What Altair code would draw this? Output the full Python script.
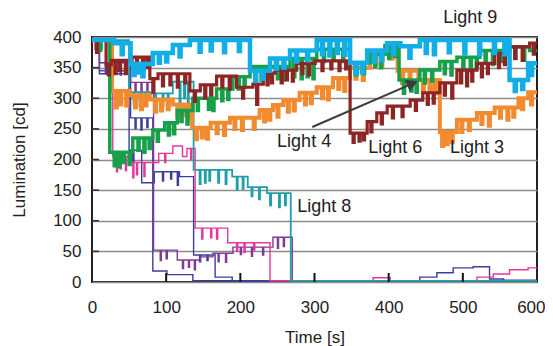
import altair as alt
import pandas as pd

# ---------------- axes ----------------
X_TICKS = [0, 100, 200, 300, 400, 500, 600]
Y_TICKS = [0, 50, 100, 150, 200, 250, 300, 350, 400]
INNER_X_TICKS = [100, 200, 300, 400, 500]
INNER_Y_TICKS = [50, 100, 150, 200, 250, 300, 350]

# ---------------- series ----------------
# each segment: [start time (s), level (cd), [[dip time, dip level], ...]]
LIGHT9 = [
    [0, 395, []],
    [30, 390, [[40, 372]]],
    [52, 356, [[56, 338], [62, 342], [68, 336]]],
    [82, 374, [[90, 358], [100, 360]]],
    [109, 387, [[118, 368]]],
    [132, 395, [[145, 376], [160, 378], [178, 375], [198, 377]]],
    [213, 345, [[220, 328], [230, 332]]],
    [240, 365, [[248, 348], [258, 350]]],
    [267, 378, [[275, 360], [290, 362]]],
    [303, 395, [[310, 372], [320, 370], [330, 374], [340, 371]]],
    [348, 358, [[355, 340], [364, 342]]],
    [371, 378, [[380, 360], [390, 362]]],
    [398, 390, [[406, 372]]],
    [416, 385, [[428, 366]]],
    [442, 395, [[450, 374], [461, 372], [481, 375], [502, 373], [522, 372], [542, 374], [556, 372]]],
    [563, 330, [[570, 312], [580, 315]]],
    [588, 357, [[592, 338]]],
]
LIGHT6 = [
    [0, 395, [[6, 375]]],
    [19, 355, [[22, 338]]],
    [26, 362, [[31, 340], [37, 345], [45, 340]]],
    [54, 367, [[60, 350], [68, 345], [74, 350]]],
    [78, 332, [[82, 310]]],
    [89, 340, [[95, 320], [105, 322], [115, 318], [125, 325]]],
    [132, 312, [[138, 295]]],
    [146, 322, [[152, 300], [160, 305]]],
    [168, 336, [[175, 318], [185, 315]]],
    [195, 318, [[203, 300]]],
    [217, 323, [[222, 290]]],
    [231, 341, [[236, 322], [242, 325]]],
    [247, 346, [[255, 325], [262, 330], [270, 328]]],
    [276, 357, [[283, 340], [292, 338]]],
    [301, 361, [[310, 345], [322, 348], [333, 345], [342, 348]]],
    [348, 243, [[352, 228], [360, 230], [366, 232]]],
    [371, 262, [[376, 245]]],
    [384, 276, [[390, 258]]],
    [398, 287, [[405, 268], [418, 270]]],
    [429, 297, [[436, 280]]],
    [446, 309, [[452, 290], [460, 292]]],
    [469, 325, [[475, 305], [485, 300]]],
    [492, 346, [[497, 325], [505, 320], [512, 328]]],
    [519, 357, [[525, 335], [533, 340]]],
    [543, 373, [[548, 350], [556, 355]]],
    [563, 384, [[570, 365], [580, 362]]],
    [590, 390, [[595, 372]]],
]
LIGHT3 = [
    [0, 395, [[8, 378]]],
    [27, 312, [[32, 285], [38, 290], [46, 288]]],
    [51, 305, [[58, 285], [66, 282], [72, 288]]],
    [78, 298, [[85, 278], [93, 280], [102, 282]]],
    [109, 290, [[115, 270], [124, 272], [130, 268]]],
    [135, 252, [[140, 233], [148, 236], [155, 234]]],
    [160, 260, [[168, 243], [178, 240]]],
    [186, 268, [[192, 250], [202, 248]]],
    [213, 268, [[218, 250]]],
    [226, 281, [[232, 262], [239, 265]]],
    [244, 289, [[250, 270]]],
    [258, 297, [[264, 278], [272, 280]]],
    [280, 309, [[287, 290], [295, 292]]],
    [303, 318, [[310, 300], [318, 298]]],
    [325, 333, [[332, 315], [340, 312]]],
    [348, 350, [[355, 332], [365, 330]]],
    [375, 373, [[382, 355], [390, 352]]],
    [398, 383, [[404, 365]]],
    [412, 345, [[418, 325], [428, 322]]],
    [440, 330, [[446, 310], [455, 312], [462, 308]]],
    [469, 245, [[472, 222], [478, 225], [485, 228]]],
    [492, 265, [[498, 245], [508, 248]]],
    [519, 276, [[525, 258], [535, 255]]],
    [543, 285, [[550, 268], [560, 265], [568, 270]]],
    [575, 300, [[580, 282]]],
    [588, 310, [[592, 290]]],
]
LIGHT4 = [
    [0, 395, [[10, 378]]],
    [24, 212, [[30, 190], [36, 188], [42, 195], [50, 192]]],
    [55, 235, [[62, 215], [70, 212], [77, 218]]],
    [82, 248, [[88, 230]]],
    [98, 260, [[103, 240], [110, 242]]],
    [115, 280, [[120, 262], [128, 258]]],
    [136, 300, [[142, 280], [157, 282], [163, 280]]],
    [168, 315, [[175, 296], [183, 298]]],
    [190, 335, [[197, 315], [205, 318]]],
    [213, 352, [[220, 332], [228, 330], [236, 335], [250, 332], [258, 330]]],
    [267, 365, [[272, 335], [282, 332], [290, 335], [298, 332]]],
    [303, 380, [[312, 360], [325, 362], [338, 360]]],
    [348, 358, [[356, 338], [366, 340]]],
    [375, 372, [[381, 352], [389, 350]]],
    [395, 386, [[400, 365], [408, 368]]],
    [414, 330, [[420, 308], [430, 312], [437, 310]]],
    [442, 346, [[448, 325], [458, 328]]],
    [469, 360, [[475, 340], [484, 338]]],
    [492, 367, [[500, 348], [510, 345], [518, 350]]],
    [523, 378, [[530, 358], [540, 355], [552, 360]]],
    [563, 384, [[570, 365], [582, 362]]],
    [590, 378, []],
]
LIGHT8 = [
    [0, 395, [[12, 380]]],
    [50, 310, [[56, 290], [64, 288], [72, 292]]],
    [78, 308, [[85, 290], [95, 288], [102, 292]]],
    [109, 327, [[118, 272], [124, 300], [129, 290]]],
    [137, 183, [[145, 160], [152, 162], [158, 165], [170, 162], [180, 160]]],
    [189, 172, [[195, 150], [203, 152]]],
    [210, 155, [[215, 140], [225, 135]]],
    [236, 145, [[240, 125], [252, 122], [260, 125]]],
    [268, 2, []],
]
LIGHT7 = [  # pink
    [0, 395, [[4, 380]]],
    [28, 205, [[33, 180], [38, 185], [45, 182]]],
    [52, 195, [[55, 170], [60, 175], [70, 172]]],
    [90, 210, [[98, 195]]],
    [109, 222, []],
    [122, 205, []],
    [128, 218, [[133, 200]]],
    [139, 88, [[148, 70], [160, 72], [168, 70]]],
    [183, 64, [[195, 50], [205, 48], [218, 52]]],
    [240, 2, []],
    [379, 7, []],
    [402, 2, []],
    [519, 8, []],
    [541, 13, []],
    [563, 20, []],
    [588, 23, []],
]
LIGHT5 = [  # purple
    [0, 395, [[5, 378]]],
    [10, 345, []],
    [52, 326, [[58, 310], [66, 308], [74, 312]]],
    [83, 52, [[92, 35], [100, 38]]],
    [115, 36, [[122, 22], [130, 24], [138, 20]]],
    [146, 41, []],
    [163, 47, [[170, 33], [180, 32]]],
    [190, 57, [[200, 45], [215, 42], [230, 44]]],
    [244, 73, [[250, 55], [258, 58]]],
    [270, 2, []],
]
LIGHT1 = [  # navy A
    [0, 395, []],
    [10, 358, [[18, 340], [28, 342], [38, 338]]],
    [52, 268, [[58, 250], [66, 248], [74, 252]]],
    [82, 18, []],
    [101, 12, []],
    [136, 2, []],
    [442, 8, []],
    [465, 15, []],
    [487, 23, []],
    [514, 25, []],
    [536, 5, []],
    [555, 3, []],
]
LIGHT2 = [  # navy B
    [0, 395, []],
    [10, 340, []],
    [50, 215, [[55, 195]]],
    [67, 162, []],
    [84, 180, [[95, 165], [106, 168], [115, 158]]],
    [118, 172, []],
    [137, 44, [[145, 33], [155, 35]]],
    [166, 8, []],
    [189, 1, []],
]

# drawing order: first = bottom
SERIES = [
    ("Light 2", LIGHT2, "#3B3F98", 1.4),
    ("Light 1", LIGHT1, "#3B3F98", 1.4),
    ("Light 5", LIGHT5, "#7E3A96", 1.4),
    ("Light 7", LIGHT7, "#E8369A", 1.4),
    ("Light 8", LIGHT8, "#1FA0A8", 1.8),
    ("Light 3", LIGHT3, "#F28A2E", 4.0),
    ("Light 4", LIGHT4, "#16A04A", 3.5),
    ("Light 6", LIGHT6, "#8E2424", 3.2),
    ("Light 9", LIGHT9, "#12AEE8", 4.5),
]

LABEL_TEXT = ["Light 9", "Light 4", "Light 6", "Light 3", "Light 8"]
LABEL_T = [510, 286, 409, 519, 313]
LABEL_V = [431, 229, 219, 219, 122]
ARROW_FROM = [297, 253]
ARROW_TO = [432, 324]

DIP_W = 1.5
END_T = 600

rows = []
for name, segs, _, _ in SERIES:
    i = 0
    for t0, lvl, dips in segs:
        rows.append({"series": name, "i": i, "t": t0, "v": lvl}); i += 1
        for td, vd in dips:
            rows.append({"series": name, "i": i, "t": td, "v": vd}); i += 1
            rows.append({"series": name, "i": i, "t": td + DIP_W, "v": lvl}); i += 1
    rows.append({"series": name, "i": i, "t": END_T, "v": segs[-1][1]})
df = pd.DataFrame(rows)

FONT = "Liberation Sans"
x_axis = alt.Axis(values=X_TICKS, title="Time [s]", grid=False, ticks=False, domain=False,
                  labelFontSize=17, titleFontSize=17, labelPadding=17, titlePadding=14,
                  labelFlush=False,
                  labelAlign={"condition": {"test": "datum.value == 600", "value": "right"},
                              "value": "center"},
                  labelOffset={"condition": {"test": "datum.value == 600", "value": 8},
                               "value": 0},
                  labelColor="#222", titleColor="#222",
                  labelFont=FONT, titleFont=FONT, titleFontWeight="normal")
y_axis = alt.Axis(values=Y_TICKS, title="Lumination [cd]", grid=True, gridColor="#8c8c8c",
                  gridWidth=1.6, ticks=False, domain=False,
                  labelFontSize=17, titleFontSize=17, labelPadding=11, titlePadding=24,
                  labelColor="#222", titleColor="#222",
                  labelFont=FONT, titleFont=FONT, titleFontWeight="normal")

X = alt.X("t:Q", scale=alt.Scale(domain=[0, 600], nice=False, zero=False), axis=x_axis)
Y = alt.Y("v:Q", scale=alt.Scale(domain=[0, 400], nice=False), axis=y_axis)

layers = []
for name, _, color, w in SERIES:
    layers.append(
        alt.Chart(df).transform_filter(alt.datum.series == name)
        .mark_line(interpolate="step-after", color=color, strokeWidth=w)
        .encode(x=X, y=Y, order=alt.Order("i:Q"))
    )

xt = pd.DataFrame({"t": INNER_X_TICKS})
yt = pd.DataFrame({"v": INNER_Y_TICKS})
layers.append(alt.Chart(xt).mark_rule(color="#111", strokeWidth=2)
              .encode(x=X, y=alt.value(245), y2=alt.value(236)))
layers.append(alt.Chart(yt).mark_rule(color="#333", strokeWidth=1.6)
              .encode(y=Y, x=alt.value(0), x2=alt.value(7)))

arrow_df = pd.DataFrame({"t": [ARROW_FROM[0]], "v": [ARROW_FROM[1]],
                         "t2": [ARROW_TO[0]], "v2": [ARROW_TO[1]]})
layers.append(alt.Chart(arrow_df).mark_rule(color="#3c3c3c", strokeWidth=2)
              .encode(x=X, y=Y, x2="t2:Q", y2="v2:Q"))
head_df = pd.DataFrame({"t": [ARROW_TO[0]], "v": [ARROW_TO[1]]})
layers.append(alt.Chart(head_df).mark_point(shape="triangle-up", filled=True, size=170,
                                            angle=66.6, color="#3c3c3c", opacity=1)
              .encode(x=X, y=Y))

lab_df = pd.DataFrame({"label": LABEL_TEXT, "t": LABEL_T, "v": LABEL_V})
layers.append(alt.Chart(lab_df).mark_text(font=FONT, fontSize=18, color="#222",
                                          align="center", baseline="middle")
              .encode(x=X, y=Y, text="label:N"))

chart = (
    alt.layer(*layers)
    .properties(width=445, height=245,
                autosize=alt.AutoSizeParams(type="none"),
                padding={"left": 84, "top": 29, "right": 8, "bottom": 66},
                background="white")
    .configure_view(stroke="#222", strokeWidth=2)
)

chart.save("out.html", embed_options={"renderer": "svg", "actions": False})
